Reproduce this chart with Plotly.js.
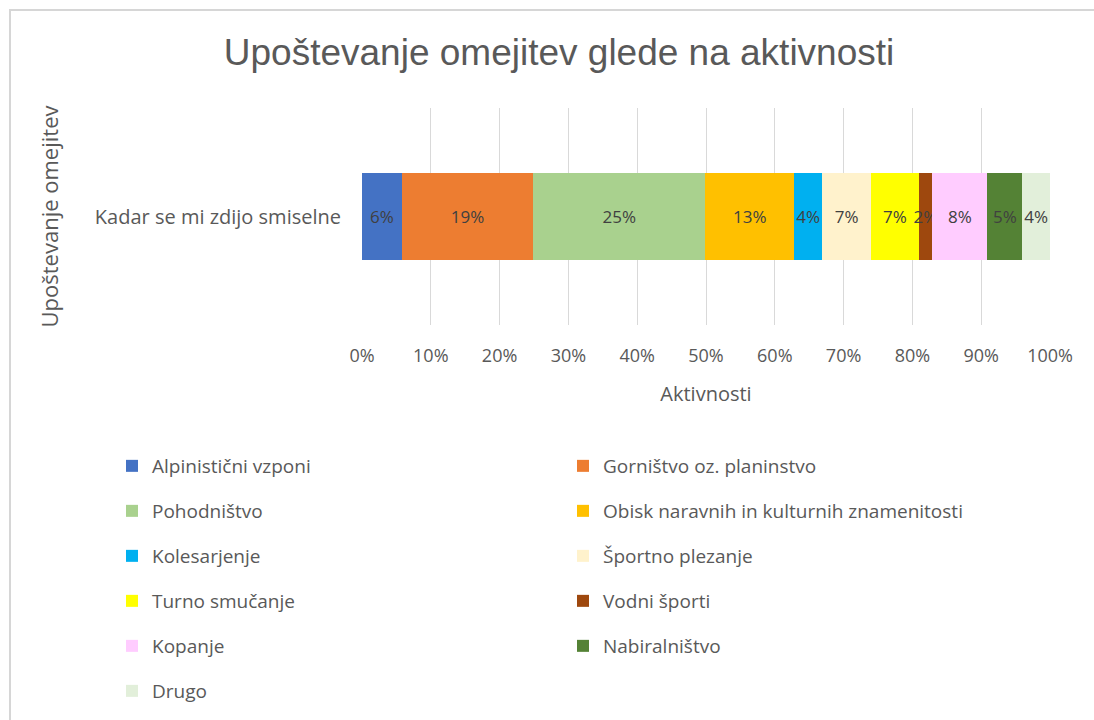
<!DOCTYPE html>
<html>
<head>
<meta charset="utf-8">
<script src="https://cdn.plot.ly/plotly-3.0.1.min.js"></script>
<style>
  body { margin: 0; padding: 0; background: #ffffff; overflow: hidden; }
  #chart { width: 1094px; height: 720px; }
  #frame { position: absolute; left: 9px; top: 9px; width: 1100px; height: 730px;
           border: 2px solid #d6d6d6; pointer-events: none; box-sizing: border-box; }
</style>
</head>
<body>
<div id="chart"></div>
<div id="frame"></div>
<script>
const category = ["Kadar se mi zdijo smiselne"];
const seriesNames = [
  "Alpinistični vzponi", "Gorništvo oz. planinstvo", "Pohodništvo",
  "Obisk naravnih in kulturnih znamenitosti", "Kolesarjenje", "Športno plezanje",
  "Turno smučanje", "Vodni športi", "Kopanje", "Nabiralništvo", "Drugo"
];
const seriesValues = [5.8, 19.1, 25.0, 12.9, 4.1, 7.1, 6.9, 2.0, 8.0, 5.1, 4.0];
const seriesColors = ["#4472C4", "#ED7D31", "#A9D18E", "#FFC000", "#00B0F0", "#FFF2CC",
  "#FFFF00", "#9E480E", "#FFCCFF", "#548235", "#E2EFDA"];
const tickVals = [0, 10, 20, 30, 40, 50, 60, 70, 80, 90, 100];
const tickText = ["0%", "10%", "20%", "30%", "40%", "50%", "60%", "70%", "80%", "90%", "100%"];

const FONT = "Open Sans, Lato, sans-serif";
const GRAY = "#595959";

// plot area in pixels: x 362..1050
const PL = 362, PW = 688;

const traces = seriesNames.map((name, i) => ({
  type: "bar",
  orientation: "h",
  name: name,
  y: category,
  x: [seriesValues[i]],
  marker: { color: seriesColors[i], line: { width: 0 } },
  texttemplate: "%{x:.0f}%",
  textposition: "inside",
  insidetextanchor: "middle",
  textangle: 0,
  constraintext: "none",
  insidetextfont: { family: FONT, size: 17, color: "#404040" },
  legend: (i % 2 === 0) ? "legend" : "legend2",
  legendgroup: "g" + i,
  hoverinfo: "name+x"
}));

const legendCommon = {
  orientation: "v",
  xref: "paper", yref: "container",
  xanchor: "left", yanchor: "top",
  traceorder: "grouped",
  tracegroupgap: 17.3,
  font: { family: FONT, size: 19, color: GRAY },
  bgcolor: "rgba(0,0,0,0)",
  itemclick: false, itemdoubleclick: false
};

const layout = {
  width: 1094, height: 720,
  paper_bgcolor: "#ffffff", plot_bgcolor: "#ffffff",
  barmode: "stack",
  bargap: 0.6,
  margin: { l: PL, r: 1094 - PL - PW, t: 108, b: 395 },
  title: {
    text: "Upoštevanje omejitev glede na aktivnosti",
    font: { family: "Liberation Sans, Arial, sans-serif", size: 37, color: GRAY },
    xref: "container", yref: "container",
    x: 0.511, xanchor: "center",
    y: 1 - 52 / 720, yanchor: "middle"
  },
  xaxis: {
    range: [0, 100],
    tickmode: "array", tickvals: tickVals, ticktext: tickText,
    tickangle: 0,
    showgrid: true, gridcolor: "#d9d9d9", gridwidth: 1,
    zeroline: false, showline: false, ticks: "",
    ticklabelstandoff: 18,
    tickfont: { family: FONT, size: 18, color: GRAY },
    title: { text: "Aktivnosti", font: { family: FONT, size: 20, color: GRAY }, standoff: 20 },
    fixedrange: true
  },
  yaxis: {
    showgrid: false, zeroline: false, showline: false, ticks: "",
    ticklabelstandoff: 20,
    tickfont: { family: FONT, size: 20, color: GRAY },
    title: { text: "Upoštevanje omejitev", font: { family: FONT, size: 22, color: GRAY }, standoff: 30 },
    fixedrange: true
  },
  legend: Object.assign({}, legendCommon, { x: (112 - PL) / PW, y: 1 - 447 / 720 }),
  legend2: Object.assign({}, legendCommon, { x: (563 - PL) / PW, y: 1 - 447 / 720 }),
  showlegend: true
};

Plotly.newPlot("chart", traces, layout, { displayModeBar: false });
</script>
</body>
</html>
